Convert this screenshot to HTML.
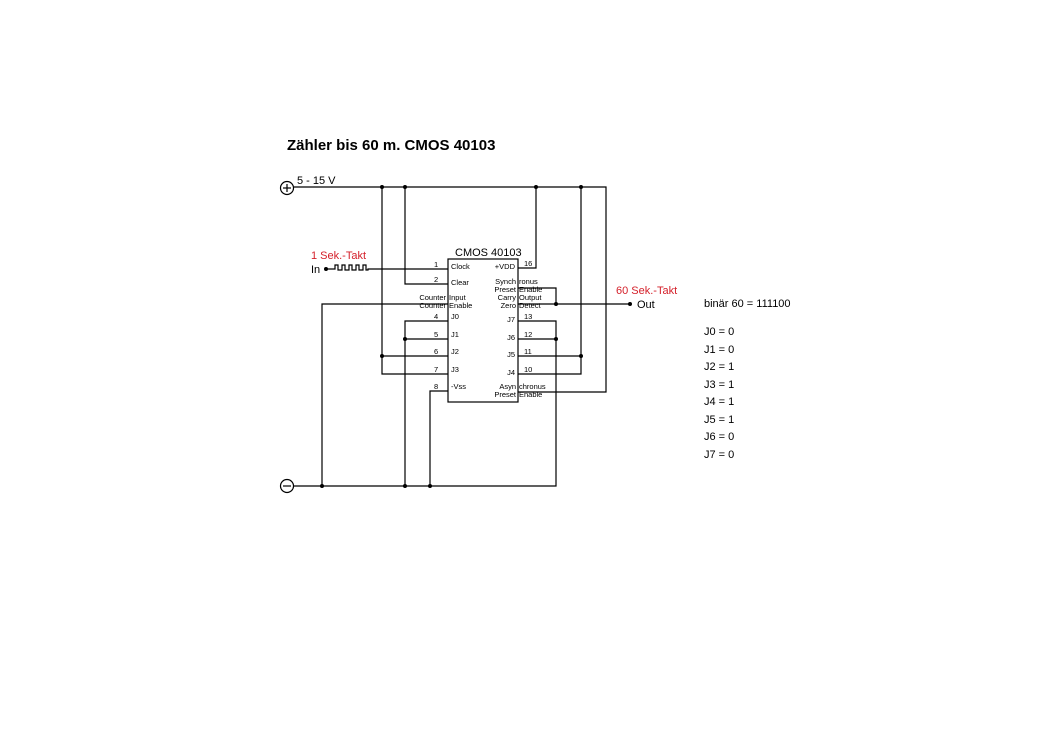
<!DOCTYPE html>
<html><head><meta charset="utf-8"><style>
html,body{margin:0;padding:0;background:#fff;}
svg{display:block;font-family:"Liberation Sans",sans-serif;}
</style></head><body>
<svg width="1041" height="736" viewBox="0 0 1041 736" xmlns="http://www.w3.org/2000/svg">
<text x="287" y="150" font-size="15" font-weight="bold">Zähler bis 60 m. CMOS 40103</text>
<g stroke="#000" stroke-width="1.2" fill="none">
<circle cx="287" cy="188" r="6.5"/><line x1="283" y1="188" x2="291" y2="188"/><line x1="287" y1="184" x2="287" y2="192"/>
<circle cx="287" cy="486" r="6.5"/><line x1="283" y1="486" x2="291" y2="486"/>
<polyline points="294,187 606,187 606,392 518,392"/>
<polyline points="382,187 382,374 448,374"/>
<line x1="382" y1="356" x2="448" y2="356"/>
<polyline points="405,187 405,284 448,284"/>
<polyline points="536,187 536,268 518,268"/>
<polyline points="581,187 581,374 518,374"/>
<line x1="518" y1="356" x2="581" y2="356"/>
<polyline points="294,486 556,486 556,321 518,321"/>
<line x1="518" y1="339" x2="556" y2="339"/>
<polyline points="322,486 322,304 448,304"/>
<polyline points="405,486 405,321 448,321"/>
<line x1="405" y1="339" x2="448" y2="339"/>
<polyline points="430,486 430,391 448,391"/>
<polyline points="518,288 556,288 556,304"/>
<line x1="518" y1="304" x2="630" y2="304"/>
<polyline points="326,269 335,269 335,265 338,265 338,270 342,270 342,265 345,265 345,270 349,270 349,265 352,265 352,270 356,270 356,265 359,265 359,270 363,270 363,265 366,265 366,270 368,270 368,269 448,269"/>
<rect x="448" y="259" width="70" height="143"/>
</g>
<g fill="#000">
<circle cx="382" cy="187" r="2"/><circle cx="405" cy="187" r="2"/><circle cx="536" cy="187" r="2"/><circle cx="581" cy="187" r="2"/>
<circle cx="322" cy="486" r="2"/><circle cx="405" cy="486" r="2"/><circle cx="430" cy="486" r="2"/>
<circle cx="382" cy="356" r="2"/><circle cx="405" cy="339" r="2"/><circle cx="556" cy="339" r="2"/><circle cx="581" cy="356" r="2"/>
<circle cx="556" cy="304" r="2"/><circle cx="630" cy="304" r="2"/><circle cx="326" cy="269" r="2"/>
</g>
<g font-size="11">
<text x="297" y="184">5 - 15 V</text>
<text x="311" y="259" fill="#d4202a">1 Sek.-Takt</text>
<text x="311" y="273">In</text>
<text x="455" y="256">CMOS 40103</text>
<text x="616" y="294" fill="#d4202a">60 Sek.-Takt</text>
<text x="637" y="308">Out</text>
<text x="704" y="307">binär 60 = 111100</text>
<text x="704" y="335">J0 = 0</text>
<text x="704" y="353">J1 = 0</text>
<text x="704" y="370">J2 = 1</text>
<text x="704" y="388">J3 = 1</text>
<text x="704" y="405">J4 = 1</text>
<text x="704" y="423">J5 = 1</text>
<text x="704" y="440">J6 = 0</text>
<text x="704" y="458">J7 = 0</text>
</g>
<g font-size="7.5">
<text x="434" y="267">1</text><text x="451" y="269">Clock</text>
<text x="434" y="282">2</text><text x="451" y="285">Clear</text>
<text x="446" y="300" text-anchor="end">Counter</text><text x="449" y="300">Input</text>
<text x="446" y="308" text-anchor="end">Counter</text><text x="449" y="308">Enable</text>
<text x="434" y="319">4</text><text x="451" y="319">J0</text>
<text x="434" y="337">5</text><text x="451" y="337">J1</text>
<text x="434" y="354">6</text><text x="451" y="354">J2</text>
<text x="434" y="372">7</text><text x="451" y="372">J3</text>
<text x="434" y="389">8</text><text x="451" y="389">-Vss</text>
<text x="515" y="269" text-anchor="end">+VDD</text><text x="524" y="266">16</text>
<text x="516" y="284" text-anchor="end">Synch</text><text x="519" y="284">ronus</text>
<text x="516" y="292" text-anchor="end">Preset</text><text x="519" y="292">Enable</text>
<text x="516" y="300" text-anchor="end">Carry</text><text x="519" y="300">Output</text>
<text x="516" y="308" text-anchor="end">Zero</text><text x="519" y="308">Detect</text>
<text x="515" y="322" text-anchor="end">J7</text><text x="524" y="319">13</text>
<text x="515" y="340" text-anchor="end">J6</text><text x="524" y="337">12</text>
<text x="515" y="357" text-anchor="end">J5</text><text x="524" y="354">11</text>
<text x="515" y="375" text-anchor="end">J4</text><text x="524" y="372">10</text>
<text x="516" y="389" text-anchor="end">Asyn</text><text x="519" y="389">chronus</text>
<text x="516" y="397" text-anchor="end">Preset</text><text x="519" y="397">Enable</text>
</g>
</svg>
</body></html>
